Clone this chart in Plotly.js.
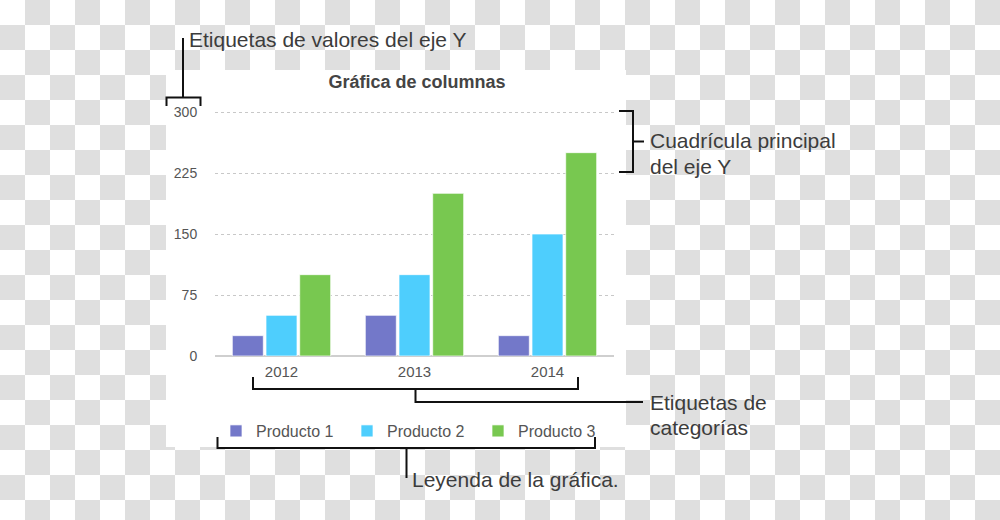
<!DOCTYPE html>
<html>
<head>
<meta charset="utf-8">
<script src="https://cdn.plot.ly/plotly-3.0.1.min.js"></script>
<style>
  html, body { margin: 0; padding: 0; }
  body {
    width: 1000px; height: 520px; overflow: hidden;
    background: repeating-conic-gradient(#dfdfdf 0 25%, #ffffff 0 50%) 0 0 / 50px 50px;
  }
  #chart { width: 1000px; height: 520px; }
</style>
</head>
<body>
<div id="chart"></div>
<script>
// ---- data ----
const categories = ["2012", "2013", "2014"];
const seriesNames = ["Producto 1", "Producto 2", "Producto 3"];
const producto1 = [25, 50, 25];
const producto2 = [50, 100, 150];
const producto3 = [100, 200, 250];
const yTicks = [0, 75, 150, 225, 300];
const chartTitle = "Gráfica de columnas";

const colors = ["#7378c9", "#4ecefd", "#78c850"];
const values = [producto1, producto2, producto3];

const traces = values.map((v, i) => ({
  type: "bar",
  name: seriesNames[i],
  x: categories,
  y: v,
  marker: { color: colors[i], line: { color: "rgba(255,255,255,0.7)", width: 1 } },
  hoverinfo: "skip"
}));

// helpers: pixel -> paper
const W = 1000, H = 520;
const px = x => x / W;
const py = y => 1 - y / H;

const lineStyle = { color: "#111111", width: 2 };
function pathShape(points) {
  const d = points.map((p, k) => (k ? "L" : "M") + px(p[0]) + "," + py(p[1])).join(" ");
  return { type: "path", xref: "paper", yref: "paper", path: d, line: lineStyle, layer: "above" };
}

const shapes = [
  // white chart background
  { type: "rect", xref: "paper", yref: "paper", x0: px(166), x1: px(626), y0: py(447), y1: py(70),
    fillcolor: "#ffffff", line: { width: 0 }, layer: "below" },
  // Y value labels bracket
  pathShape([[183, 38], [183, 97]]),
  pathShape([[166.5, 106], [166.5, 97.5], [200.5, 97.5], [200.5, 106]]),
  // gridline bracket
  pathShape([[619, 111], [633, 111], [633, 172], [619, 172]]),
  pathShape([[633, 141.5], [644, 141.5]]),
  // category labels bracket
  pathShape([[253, 377], [253, 389], [578, 389], [578, 377]]),
  pathShape([[415.5, 389], [415.5, 402], [643, 402]]),
  // legend bracket
  pathShape([[217.5, 437], [217.5, 448], [595, 448], [595, 437]]),
  pathShape([[406.5, 448], [406.5, 478]])
];

const annFont = { family: "Liberation Sans, Arial, sans-serif", size: 21, color: "#3c3c3c" };
function ann(text, x, y) {
  return { text: text, xref: "paper", yref: "paper", x: px(x), y: py(y),
    xanchor: "left", yanchor: "middle", showarrow: false, align: "left", font: annFont };
}
const annotations = [
  ann("Etiquetas de valores del eje Y", 187, 40),
  ann("Cuadrícula principal", 648, 141),
  ann("del eje Y", 648, 166),
  ann("Etiquetas de", 648, 402),
  ann("categorías", 648, 427),
  ann("Leyenda de la gráfica.", 410, 479)
];

// y range slightly above 300 so the top gridline is drawn
const yMax = 306;
const yPxPerUnit = (356 - 112) / 300;

const layout = {
  width: W, height: H,
  margin: { l: 0, r: 0, t: 0, b: 0, pad: 0 },
  paper_bgcolor: "rgba(0,0,0,0)",
  plot_bgcolor: "rgba(0,0,0,0)",
  font: { family: "Liberation Sans, Arial, sans-serif", size: 14, color: "#555555" },
  title: {
    text: "<b>" + chartTitle + "</b>",
    x: px(417), xanchor: "center", xref: "paper",
    y: py(82), yanchor: "middle", yref: "container",
    font: { size: 18, color: "#444444" }
  },
  barmode: "group",
  bargap: 0.24,
  bargroupgap: 0.08,
  xaxis: {
    type: "category",
    domain: [px(215), px(614)],
    range: [-0.5, 2.5],
    showgrid: false, zeroline: false, showline: false,
    ticks: "outside", ticklen: 2, tickcolor: "rgba(0,0,0,0)",
    tickfont: { size: 15, color: "#555555" },
    fixedrange: true
  },
  yaxis: {
    domain: [py(356), py(356 - yMax * yPxPerUnit)],
    range: [0, yMax],
    tickvals: yTicks,
    ticktext: yTicks.map(String),
    showgrid: true, gridcolor: "#c8c8c8", griddash: "dot", gridwidth: 1,
    zeroline: true, zerolinecolor: "#cfcfcf", zerolinewidth: 2,
    showline: false,
    ticks: "outside", ticklen: 14, tickcolor: "rgba(0,0,0,0)",
    tickfont: { size: 14, color: "#555555" },
    fixedrange: true
  },
  showlegend: true,
  legend: {
    orientation: "h",
    x: px(216), xanchor: "left",
    y: py(431), yanchor: "middle",
    entrywidth: 86, entrywidthmode: "pixels",
    font: { size: 16, color: "#555555" },
    bgcolor: "rgba(0,0,0,0)",
    traceorder: "normal"
  },
  shapes: shapes,
  annotations: annotations
};

Plotly.newPlot("chart", traces, layout, { staticPlot: true, displayModeBar: false });
</script>
</body>
</html>
